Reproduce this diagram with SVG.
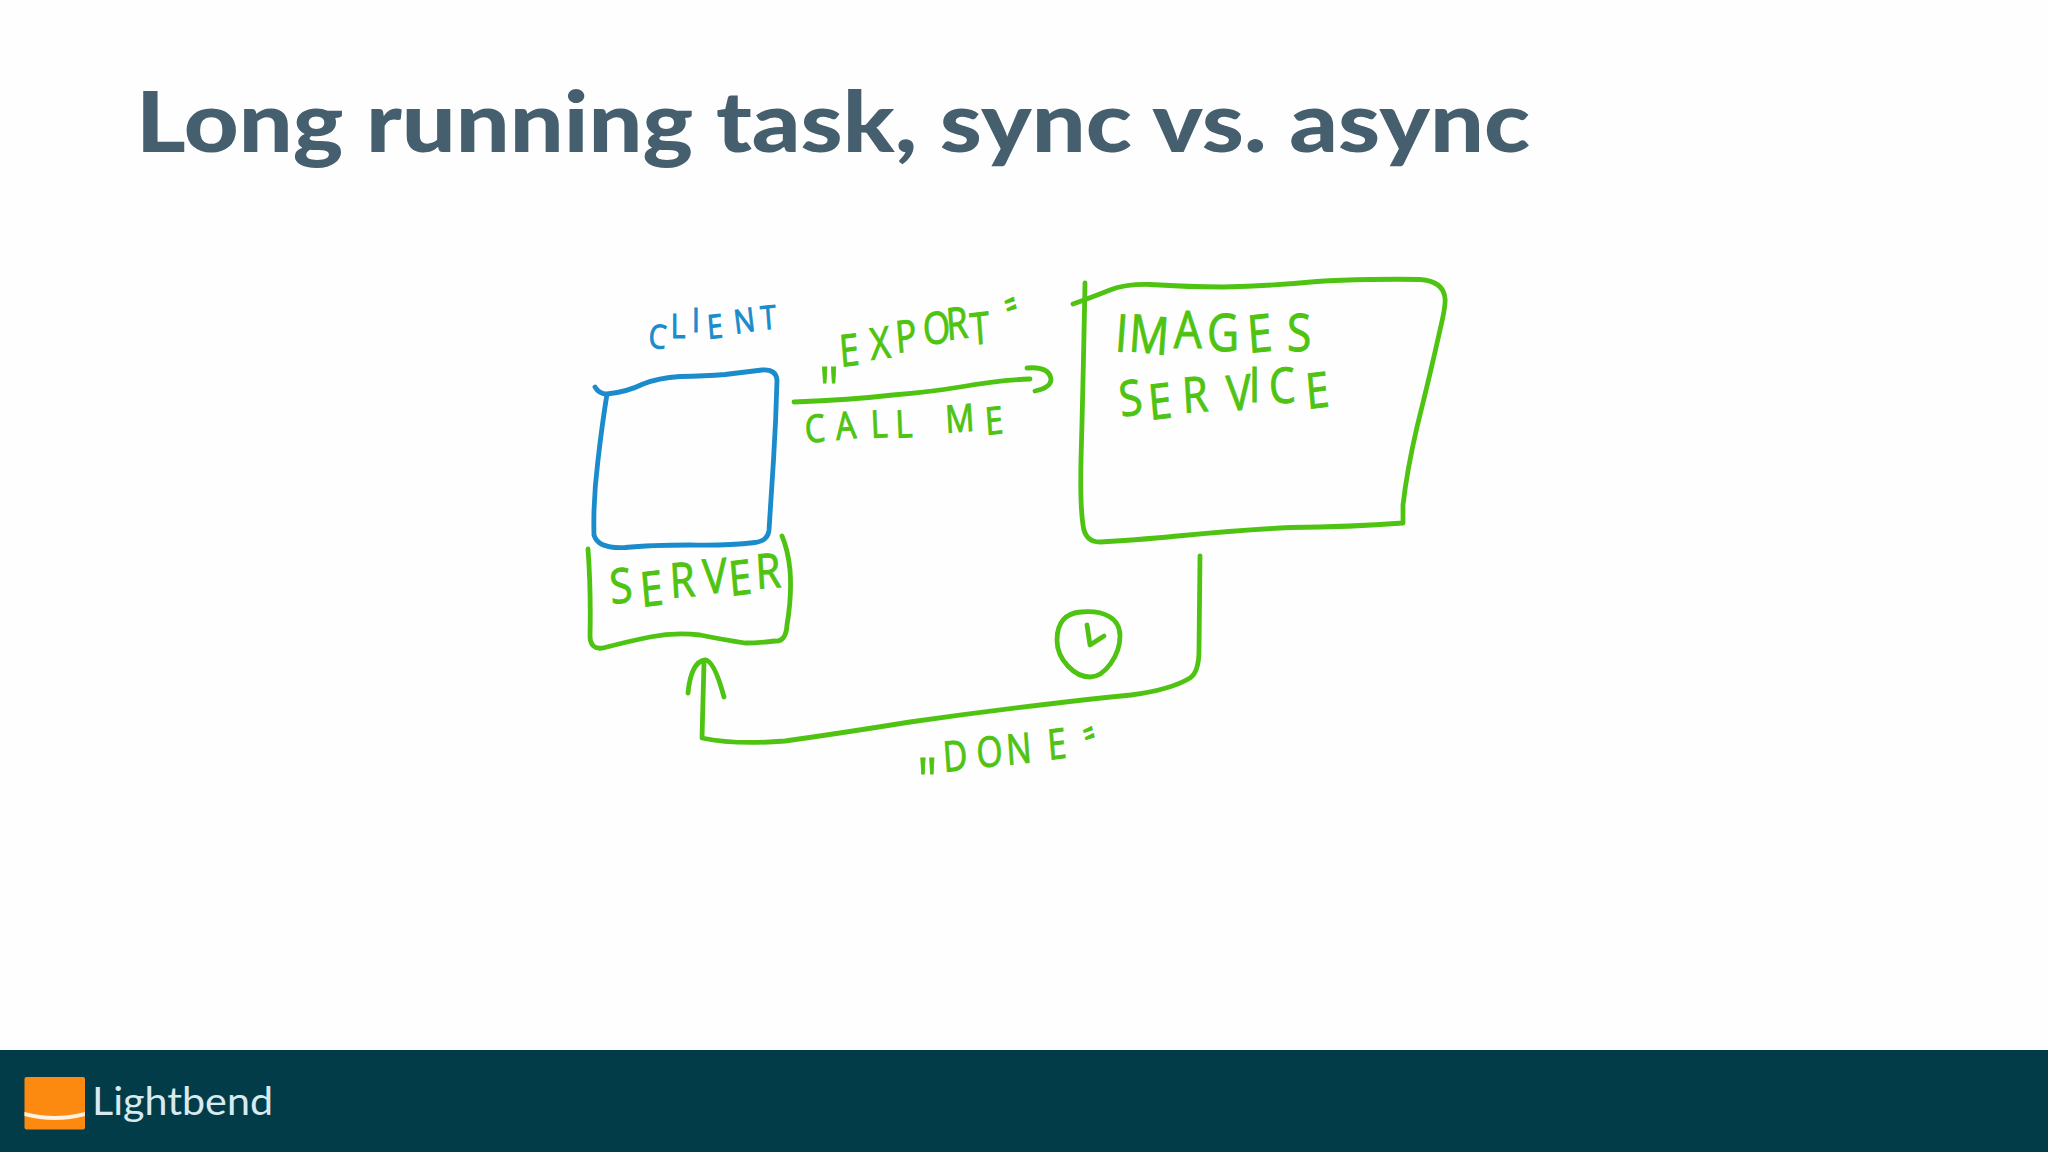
<svg xmlns="http://www.w3.org/2000/svg" width="2048" height="1152" viewBox="0 0 2048 1152">
<style>
.s{fill:none;stroke-width:4.8;stroke-linecap:round;stroke-linejoin:round}
.g{stroke:#4fc312}
.b{stroke:#1a8bcb}
.h{font-family:"Open Sans","DejaVu Sans",sans-serif;font-weight:400;stroke-width:1}
.hg{fill:#4fc312;stroke:#4fc312}
.hb{fill:#1a8bcb;stroke:#1a8bcb}
</style>
<rect width="2048" height="1152" fill="#fefefe"/>
<text id="title" x="136" y="152" font-family="Lato,'Liberation Sans',sans-serif" font-weight="900" font-size="84" fill="#465f6e" textLength="1394" lengthAdjust="spacingAndGlyphs">Long running task, sync vs. async</text>
<g id="client">
<path class="s b" d="M595 387Q599 394 607 394Q627 392 643 384Q658 378 680 376.500Q705 376 725 374.500Q745 372 762 370Q776 369 777 380Q776 420 773.500 460Q771 500 769 530Q768 541 755 542.500Q725 546 690 545Q650 545 625 547.500Q598 549 594 535Q593 500 598 460Q602 425 607 394"/>
<text class="h hb" font-size="33" transform="scale(.85 1)" x="762 789 814 833 865 896" y="347 338 332 339 334 330" rotate="6 0 0 -5 -8 -5">CLIENT</text>
</g>
<g id="server">
<path class="s g" d="M588 549Q591 590 590 637Q591 650 603 648Q630 641 650 637Q675 632 700 635Q725 640 745 643Q758 643 775 641Q786 642 787 625Q792 595 790 570Q788 550 782 536"/>
<text class="h hg" font-size="48" transform="scale(.85 1)" x="719 755 789 828 859 890" y="604 607 598 594 596 589" rotate="-6 -6 -4 -4 -6 -4">SERVER</text>
</g>
<g id="images-service">
<path class="s g" d="M1085 283Q1083 390 1081 460Q1080 505 1083 525Q1085 542 1100 542Q1150 539 1183 535.500Q1240 530 1290 527.500Q1350 527 1403 523L1403 505Q1407 470 1417 427Q1430 375 1440 330Q1446 305 1445 298Q1443 281 1420 279.500Q1400 279 1370 279.500Q1340 280 1317 281.500Q1270 286 1223 287Q1190 287 1150 284.500Q1125 284 1110 290Q1090 298 1073 304"/>
<text class="h hg" font-size="52" transform="scale(.85 1)" x="1311 1327 1381 1420 1469 1514" y="351 351 348 351 353 351" rotate="5 5 0 0 -5 0">IMAGES</text>
<text class="h hg" font-size="49" transform="scale(.85 1)" x="1319 1353 1392 1444 1469 1494 1538" y="417 420 413 411 402 404 409" rotate="-8 -6 -4 -4 0 -4 -6">SERVICE</text>
</g>
<g id="timer">
<path class="s g" d="M1081 612C1104 610 1120 618 1120 636C1120 655 1105 677 1090 677C1075 677 1057 660 1057 640C1057 622 1066 613 1081 612ZM1087 625L1090 645L1104 636"/>
</g>
<g id="connectors">
<path class="s g" d="M794 402Q850 400 893 395Q930 392 960 387Q1000 380 1030 379M1027 368Q1050 366 1051 380Q1050 388 1035 391"/>
<path class="s g" d="M1200 556L1199 650Q1199 672 1190 678Q1170 690 1131 695Q1090 699 1053 703.500Q980 712 910 722Q842 733 785 741Q735 745 702 738L704 662M688 693Q691 662 705 660Q714 660 724 697"/>
</g>
<g id="connector-labels">
<text class="h hg" font-size="44" transform="scale(.8 1)"><tspan font-size="62" x="1024" y="412">"</tspan><tspan x="1051 1089 1121 1155 1184 1214" y="367 360 353 345 340 345" rotate="-6 -6 -6 -5 -5 -5">EXPORT</tspan><tspan x="1236" y="304" rotate="72">"</tspan></text>
<text class="h hg" font-size="38" transform="scale(.85 1)" x="948 984 1025 1054 1094 1113 1160" y="443 440 438 438 436 433 435" rotate="-5 -5 -3 -3 0 -4 -5">CALL ME</text>
<text class="h hg" font-size="42" transform="scale(.8 1)"><tspan font-size="62" x="1147" y="803">"</tspan><tspan x="1180 1222 1259 1311" y="772 768 765 760" rotate="-5 -5 -5 -6">DONE</tspan><tspan x="1335" y="733" rotate="72">"</tspan></text>
</g>
<g id="footer">
<rect y="1050" width="2048" height="102" fill="#033c49"/>
<rect x="24.500" y="1077" width="60.500" height="52.500" rx="2" fill="#fd8a10"/>
<path d="M24.500 1112Q55 1120 85 1112L85 1116Q55 1124 24.500 1116Z" fill="#fdf1e4"/>
<text x="92" y="1115" font-family="Lato,'Liberation Sans',sans-serif" font-weight="400" font-size="38" fill="#d8e9ef" textLength="181" lengthAdjust="spacingAndGlyphs">Lightbend</text>
</g>
</svg>
